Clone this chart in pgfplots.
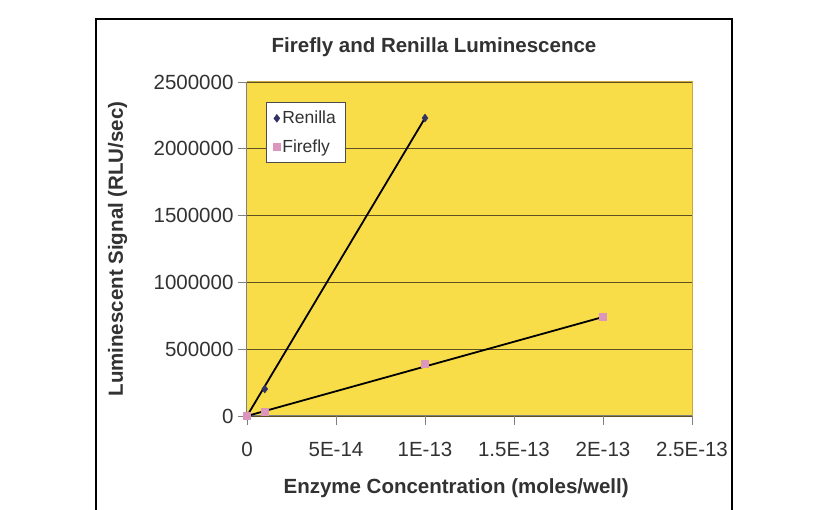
\documentclass[border=0pt]{standalone}
\usepackage{pgfplots}
\pgfplotsset{compat=1.18}
\usepackage{fontspec}
\setmainfont{Liberation Sans}
\definecolor{plotyellow}{RGB}{248,220,72}
\definecolor{gridbrown}{RGB}{95,80,35}
\definecolor{txt}{RGB}{50,50,50}
\definecolor{renilla}{RGB}{50,50,100}
\definecolor{firefly}{RGB}{220,150,190}
\definecolor{plotborder}{RGB}{200,170,60}
\begin{document}
\begin{tikzpicture}[x=1pt,y=1pt]
\useasboundingbox (0,0) rectangle (839,510);
\fill[white] (0,0) rectangle (839,510);
\draw[black, line width=1.3pt] (96,-5) -- (96,491) -- (732,491) -- (732,-5);
\node[font=\fontsize{20.5}{24}\selectfont\bfseries, text=txt] at (434,463) {Firefly and Renilla Luminescence};
\begin{axis}[
  at={(247pt,94pt)}, anchor=south west,
  scale only axis, width=445pt, height=334pt,
  xmin=0, xmax=2.5e-13, ymin=0, ymax=2500000,
  axis lines=left, axis line style={draw=gray, line width=1pt, -},
  axis background/.style={fill=plotyellow},
  xtick={0,5e-14,1e-13,1.5e-13,2e-13,2.5e-13},
  xticklabels={0,5E-14,1E-13,1.5E-13,2E-13,2.5E-13},
  scaled x ticks=false, scaled y ticks=false,
  ytick={0,500000,1000000,1500000,2000000,2500000},
  yticklabel style={/pgf/number format/fixed, /pgf/number format/1000 sep={}, /pgf/number format/assume math mode=true},
  tick align=outside, major tick length=9pt,
  tick style={draw=gray, line width=0.8pt},
  ticklabel style={font=\fontsize{20.5}{23}\selectfont, text=txt},
  xticklabel style={yshift=-14pt},
  yticklabel style={xshift=-1pt},
  ymajorgrids, grid style={draw=gridbrown, line width=1.1pt},
  xlabel={Enzyme Concentration (moles/well)},
  ylabel={Luminescent Signal (RLU/sec)},
  label style={font=\fontsize{20.5}{23}\selectfont\bfseries, text=txt},
  xlabel style={at={(axis description cs:0.470,-0.2156)}, anchor=center},
  ylabel style={at={(axis description cs:-0.2905,0.5)}, anchor=center},
  legend style={at={(0.043,0.94)}, anchor=north west, draw=black!70, fill=white,
    font=\fontsize{17.5}{20}\selectfont, text=txt, inner sep=7pt, row sep=10pt},
  legend cell align=left,
  clip=false,
]
\addplot[only marks, mark=diamond*, mark size=4pt, color=renilla] coordinates {(0,0) (1e-14,202000) (1e-13,2230000)};
\addlegendentry{Renilla}
\addplot[only marks, mark=square*, mark size=3.5pt, color=firefly] coordinates {(0,0) (1e-14,30000) (1e-13,389000) (2e-13,741000)};
\addlegendentry{Firefly}
\addplot[black, line width=1.8pt, forget plot] coordinates {(0,0) (1e-13,2230000)};
\addplot[black, line width=1.8pt, forget plot] coordinates {(0,0) (2e-13,741000)};
\end{axis}
\draw[draw=plotborder, line width=1pt] (247,428) -- (692,428) -- (692,94);
\end{tikzpicture}
\end{document}
